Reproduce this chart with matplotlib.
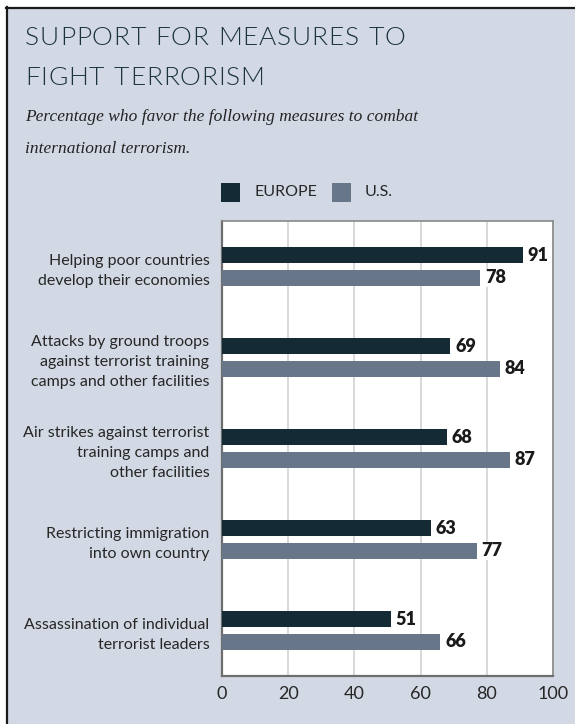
import matplotlib
matplotlib.use("Agg")
import matplotlib.pyplot as plt
from matplotlib.patches import Rectangle
from matplotlib.lines import Line2D
import numpy as np

categories = [
    "Helping poor countries\ndevelop their economies",
    "Attacks by ground troops\nagainst terrorist training\ncamps and other facilities",
    "Air strikes against terrorist\ntraining camps and\nother facilities",
    "Restricting immigration\ninto own country",
    "Assassination of individual\nterrorist leaders",
]
europe = [91, 69, 68, 63, 51]
us = [78, 84, 87, 77, 66]
series_names = ["EUROPE", "U.S."]
xticks = [0, 20, 40, 60, 80, 100]

BG = "#d3d9e4"
C_EU = "#142a35"
C_US = "#687689"
TITLE_C = "#1c3440"
TEXT_C = "#262626"

W, H = 575, 724
fig = plt.figure(figsize=(W / 100, H / 100), dpi=100, facecolor="white")
renderer = fig.canvas.get_renderer()


def fx(px):
    return px / W


def fy(py):
    return 1 - py / H


def char_widths(s, space_px, **kw):
    widths = []
    for ch in s:
        if ch == " ":
            widths.append(space_px)
        else:
            t = fig.text(0, 0, ch, **kw)
            widths.append(t.get_window_extent(renderer).width)
            t.remove()
    return widths


def tracked_text(x_px, y_px, s, tracking_px, space_px, **kw):
    """Draw a string letter by letter with extra spacing between letters."""
    x = x_px
    for ch, w in zip(s, char_widths(s, space_px, **kw)):
        if ch != " ":
            fig.text(fx(x), fy(y_px), ch, va="baseline", ha="left", **kw)
        x += w + tracking_px


# panel background with dark top and left rules
fig.patches.append(Rectangle((fx(6), 0), 1 - fx(6), fy(7), transform=fig.transFigure,
                             facecolor=BG, edgecolor="none", zorder=-5))
fig.lines.append(Line2D([fx(6), 1], [fy(7.5), fy(7.5)], transform=fig.transFigure,
                        color="#1a1a1a", lw=1.6, zorder=-4))
fig.lines.append(Line2D([fx(6.5), fx(6.5)], [0, fy(7)], transform=fig.transFigure,
                        color="#1a1a1a", lw=1.6, zorder=-4))

# title (letter-spaced) and subtitle
title_kw = dict(fontsize=19, family="Lato", fontweight=300, color=TITLE_C)
line1 = "SUPPORT FOR MEASURES TO"
line2 = "FIGHT TERRORISM"
space_px = 8
w1 = char_widths(line1, space_px, **title_kw)
tracking = (380 - sum(w1)) / (len(line1) - 1)
tracked_text(25, 45, line1, tracking, space_px, **title_kw)
tracked_text(25, 85, line2, tracking, space_px, **title_kw)

fig.text(fx(25), fy(121), "Percentage who favor the following measures to combat",
         fontsize=12.5, family="Liberation Serif", style="italic", color="#222222", va="baseline")
fig.text(fx(25), fy(153), "international terrorism.",
         fontsize=12.5, family="Liberation Serif", style="italic", color="#222222", va="baseline")

# legend
for (x0, name, col, tx) in [(221, series_names[0], C_EU, 254), (332, series_names[1], C_US, 365)]:
    fig.patches.append(Rectangle((fx(x0), fy(202)), fx(19), 19 / H, transform=fig.transFigure,
                                 facecolor=col, edgecolor="none"))
    fig.text(fx(tx), fy(192.5), name, fontsize=11.5, family="Lato", color=TEXT_C, va="center")

# bar chart
ax = fig.add_axes([fx(222), 1 - 676 / H, (553 - 222) / W, (676 - 221) / H])
ax.set_facecolor("white")
y = np.arange(len(categories))
h = 0.175
off = 0.126
ax.barh(y - off, europe, height=h, color=C_EU, zorder=3)
ax.barh(y + off, us, height=h, color=C_US, zorder=3)

label_kw = dict(va="center", ha="left", fontsize=13, fontweight="heavy", family="Lato",
                color="#1a1a1a", zorder=4,
                bbox=dict(facecolor="white", edgecolor="none", pad=0.5))
for yi, v in zip(y - off, europe):
    ax.text(v + 1.4, yi, str(v), **label_kw)
for yi, v in zip(y + off, us):
    ax.text(v + 1.4, yi, str(v), **label_kw)

ax.set_xlim(0, 100)
ax.set_ylim(len(categories) - 0.5, -0.5)
ax.set_xticks(xticks)
ax.set_xticklabels([str(t) for t in xticks], fontsize=13, family="Lato",
                   fontweight="normal", color=TEXT_C)
ax.set_yticks(y)
ax.set_yticklabels(categories, fontsize=11.5, family="Lato", color=TEXT_C, linespacing=1.55)
ax.tick_params(axis="x", length=0, pad=7)
ax.tick_params(axis="y", length=0, pad=9)
ax.grid(axis="x", color="#d2d2d2", lw=1.2, zorder=1)
ax.set_axisbelow(True)
for s in ["top", "right"]:
    ax.spines[s].set_color("#8a8a8a")
    ax.spines[s].set_linewidth(1.2)
for s in ["left", "bottom"]:
    ax.spines[s].set_color("#6e6e6e")
    ax.spines[s].set_linewidth(1.6)

fig.savefig("out.png", dpi=100, facecolor="white")
